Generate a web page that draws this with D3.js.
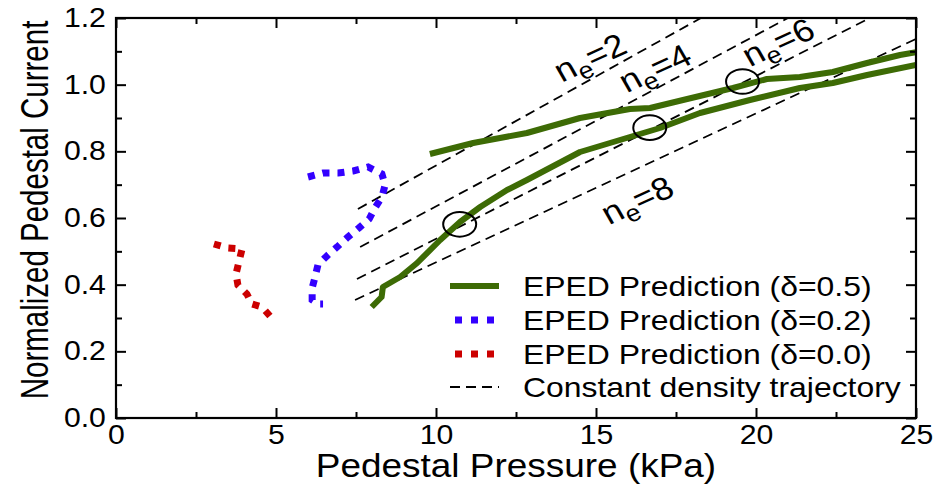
<!DOCTYPE html>
<html><head><meta charset="utf-8">
<script src="https://cdn.jsdelivr.net/npm/d3@7"></script>
<style>
body{margin:0;background:#fff;}
text{font-family:"Liberation Sans",Arial,Helvetica,sans-serif;fill:#000;}
</style></head>
<body><svg id="c" width="933" height="489"></svg>
<script>
// ---- data ----
const xTickValues = [0,5,10,15,20,25];
const yTickValues = [0,0.2,0.4,0.6,0.8,1.0,1.2];
const yTickLabels = ["0.0","0.2","0.4","0.6","0.8","1.0","1.2"];
const xLabel = "Pedestal Pressure (kPa)";
const yLabel = "Normalized Pedestal Current";

const epedD05Upper = [[9.81,0.792],[11.16,0.825],[12.84,0.855],[14.5,0.90],[16.06,0.927],[16.69,0.93],[17.72,0.954],[19.28,0.99],[20.34,1.017],[21.37,1.023],[22.4,1.038],[23.47,1.065],[24.5,1.089],[25.0,1.097]];
const epedD05Lower = [[7.99,0.333],[8.30,0.363],[8.34,0.393],[8.88,0.423],[9.41,0.465],[10.13,0.534],[10.75,0.588],[11.38,0.633],[12.22,0.684],[12.84,0.714],[14.5,0.798],[16.06,0.843],[17.0,0.870],[18.25,0.915],[19.81,0.954],[21.37,0.99],[22.4,1.005],[23.47,1.029],[25.0,1.059]];
const epedD02 = [[6.0,0.723],[6.47,0.735],[6.94,0.735],[7.41,0.741],[7.88,0.753],[8.31,0.732],[8.41,0.699],[8.31,0.663],[8.09,0.630],[7.91,0.597],[7.59,0.570],[7.25,0.543],[6.91,0.513],[6.59,0.486],[6.31,0.459],[6.22,0.423],[6.13,0.39],[6.13,0.354],[6.31,0.342],[6.47,0.342]];
const epedD00 = [[3.06,0.522],[3.5,0.51],[3.94,0.507],[3.84,0.468],[3.75,0.432],[3.81,0.399],[4.09,0.372],[4.25,0.342],[4.56,0.333],[4.81,0.306]];
const densityValues = [2,4,6,8];
const densityLines = [
  [[7.56,0.627],[18.28,1.2]],
  [[7.63,0.513],[21.0,1.2]],
  [[7.53,0.417],[23.56,1.2]],
  [[7.47,0.354],[25.0,1.137]]
];
const densityLabelAt = [[14.81,1.082],[16.84,1.05],[20.69,1.128],[16.28,0.654]];
const markedPoints = [[10.74,0.581],[16.68,0.871],[19.58,1.0095]];
const legendLabels = ["EPED Prediction (\u03b4=0.5)","EPED Prediction (\u03b4=0.2)","EPED Prediction (\u03b4=0.0)","Constant density trajectory"];

// ---- layout ----
const L=116,R=916,T=18,B=418;
const SX=1.12;
const green="#3d6b05", blue="#3300ff", red="#cc0000";
const svg=d3.select("#c");
const x=d3.scaleLinear().domain([0,25]).range([L,R]);
const y=d3.scaleLinear().domain([0,1.2]).range([B,T]);

svg.append("defs").append("clipPath").attr("id","clip")
  .append("rect").attr("x",L).attr("y",T).attr("width",R-L).attr("height",B-T);

const line=d3.line().x(d=>x(d[0])).y(d=>y(d[1]));
const plot=svg.append("g").attr("clip-path","url(#clip)");

densityLines.forEach(pts=>{
  plot.append("path").attr("d",line(pts)).attr("fill","none")
    .attr("stroke","#000").attr("stroke-width",1.8).attr("stroke-dasharray","10,6");
});
plot.append("path").attr("d",line(epedD00)).attr("fill","none").attr("stroke",red)
  .attr("stroke-width",7).attr("stroke-dasharray","7,8");
plot.append("path").attr("d",line(epedD02)).attr("fill","none").attr("stroke",blue)
  .attr("stroke-width",7).attr("stroke-dasharray","7,8");
[epedD05Upper,epedD05Lower].forEach(c=>{
  plot.append("path").attr("d",line(c)).attr("fill","none").attr("stroke",green)
    .attr("stroke-width",6).attr("stroke-linejoin","round");
});
markedPoints.forEach(p=>{
  svg.append("ellipse").attr("cx",x(p[0])).attr("cy",y(p[1])).attr("rx",16.5).attr("ry",12.3)
    .attr("fill","none").attr("stroke","#000").attr("stroke-width",2);
});
densityValues.forEach((v,i)=>{
  const p=densityLabelAt[i];
  const t=svg.append("text").attr("transform",`translate(${x(p[0])},${y(p[1])}) scale(${SX},1) rotate(-27)`)
    .attr("text-anchor","middle").attr("dy","0.35em").attr("font-size",32);
  t.append("tspan").text("n");
  t.append("tspan").attr("font-size",24).attr("dy",7).text("e");
  t.append("tspan").attr("dy",-7).text("="+v);
});

// axes
const fmtY=d=>yTickLabels[yTickValues.findIndex(v=>Math.abs(v-d)<1e-9)];
const ax=svg.append("g");
ax.append("g").attr("transform",`translate(0,${B})`)
  .call(d3.axisBottom(x).tickValues(xTickValues).tickSize(-10).tickPadding(7).tickFormat(d3.format("d")));
ax.append("g").attr("transform",`translate(${L},0)`)
  .call(d3.axisLeft(y).tickValues(yTickValues).tickSize(-10).tickPadding(9).tickFormat(fmtY));
ax.append("g").attr("transform",`translate(0,${T})`).call(d3.axisTop(x).tickValues(xTickValues).tickSize(-10).tickFormat(""));
ax.append("g").attr("transform",`translate(${R},0)`).call(d3.axisRight(y).tickValues(yTickValues).tickSize(-10).tickFormat(""));
const xMinor=d3.range(2.5,25,5), yMinor=d3.range(0.1,1.2,0.2);
ax.append("g").attr("transform",`translate(0,${B})`).call(d3.axisBottom(x).tickValues(xMinor).tickSize(-6).tickFormat(""));
ax.append("g").attr("transform",`translate(0,${T})`).call(d3.axisTop(x).tickValues(xMinor).tickSize(-6).tickFormat(""));
ax.append("g").attr("transform",`translate(${L},0)`).call(d3.axisLeft(y).tickValues(yMinor).tickSize(-6).tickFormat(""));
ax.append("g").attr("transform",`translate(${R},0)`).call(d3.axisRight(y).tickValues(yMinor).tickSize(-6).tickFormat(""));
ax.selectAll(".domain").remove();
ax.selectAll(".tick line").attr("stroke","#000").attr("stroke-width",2);
ax.selectAll("text").attr("font-size",27).attr("font-family","Liberation Sans, Arial, sans-serif")
  .attr("fill","#000").attr("transform",`scale(${SX},1)`);
svg.append("rect").attr("x",L).attr("y",T).attr("width",R-L).attr("height",B-T)
  .attr("fill","none").attr("stroke","#000").attr("stroke-width",2.2);

svg.append("text").attr("transform",`translate(${(L+R)/2},477) scale(${SX},1)`)
  .attr("text-anchor","middle").attr("font-size",33).text(xLabel);
svg.append("text").attr("transform",`translate(48,210) scale(1.3,1) rotate(-90)`)
  .attr("text-anchor","middle").attr("font-size",29.5).text(yLabel);

// legend
const lg=svg.append("g");
const rows=[286,320,354,387];
const styles=[
  {c:green,w:6,da:null},
  {c:blue,w:7,da:"7,9"},
  {c:red,w:7,da:"7,9"},
  {c:"#000",w:1.8,da:"10,6"}
];
legendLabels.forEach((lab,i)=>{
  const s=styles[i];
  lg.append("line").attr("x1",i===1||i===2?455:450).attr("x2",499).attr("y1",rows[i]).attr("y2",rows[i])
    .attr("stroke",s.c).attr("stroke-width",s.w).attr("stroke-dasharray",s.da);
  lg.append("text").attr("transform",`translate(523,${rows[i]+10}) scale(${SX},1)`)
    .attr("font-size",28.5).text(lab);
});
</script></body></html>
